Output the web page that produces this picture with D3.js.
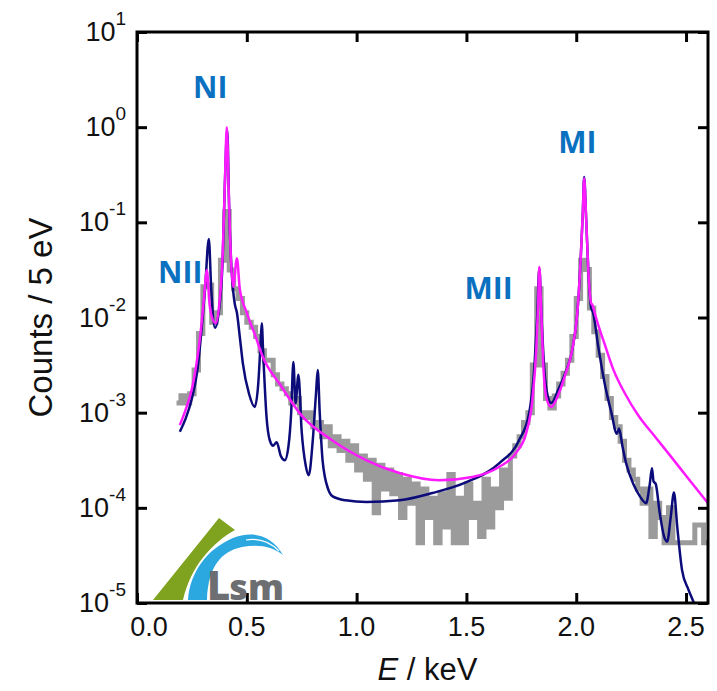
<!DOCTYPE html>
<html>
<head>
<meta charset="utf-8">
<script src="https://cdn.jsdelivr.net/npm/d3@7"></script>
<style>
  html, body { margin: 0; padding: 0; background: #fff; }
  svg { display: block; }
</style>
</head>
<body>
<svg id="chart" width="717" height="691"></svg>
<script>
// ---- axis ticks ----
const xTicks = [0.0, 0.5, 1.0, 1.5, 2.0, 2.5];
const yExponents = [-5, -4, -3, -2, -1, 0, 1];

// ---- measured spectrum (histogram, normalised counts) ----
const binStart = 0.18;   // keV
const binWidth = 0.02;   // keV
const measured = [
  // 0.18 - 0.38
  1.26e-3, 1.51e-3, 1.26e-3, 1.58e-3, 2.8e-3, 6.8e-3, 0.021, 0.022, 8.9e-3, 0.0112,
  // 0.38 - 0.58
  0.040, 0.13, 0.0316, 0.020, 0.0158, 0.0112, 8.9e-3, 7.9e-3, 6.3e-3, 4.47e-3,
  // 0.58 - 0.78
  3.55e-3, 3.55e-3, 2.5e-3, 2.0e-3, 1.78e-3, 1.58e-3, 1.26e-3, 1.41e-3, 1.0e-3, 8.9e-4,
  // 0.78 - 0.98
  1.0e-3, 7.1e-4, 7.9e-4, 5.6e-4, 7.1e-4, 4.5e-4, 5.6e-4, 4.0e-4, 5.0e-4, 3.16e-4,
  // 0.98 - 1.18
  4.5e-4, 2.5e-4, 3.5e-4, 2.0e-4, 3.16e-4, 8.9e-5, 2.8e-4, 1.58e-4, 2.5e-4, 1.41e-4,
  // 1.18 - 1.38
  2.24e-4, 7.9e-5, 2.0e-4, 1.12e-4, 1.78e-4, 4.3e-5, 1.58e-4, 7.9e-5, 1.26e-4, 4.3e-5,
  // 1.38 - 1.58
  1.41e-4, 6.3e-5, 2.24e-4, 4.3e-5, 1.26e-4, 4.3e-5, 1.78e-4, 7.9e-5, 1.12e-4, 5.0e-5,
  // 1.58 - 1.78
  2.0e-4, 6.3e-5, 1.58e-4, 1.0e-4, 2.5e-4, 1.26e-4, 3.5e-4, 4.5e-4, 5.6e-4, 7.9e-4,
  // 1.78 - 1.98
  1.0e-3, 3.16e-3, 0.020, 3.16e-3, 1.41e-3, 1.12e-3, 1.5e-3, 2.0e-3, 2.6e-3, 3.55e-3,
  // 1.98 - 2.18
  6.3e-3, 0.0158, 0.040, 0.032, 0.0126, 7.1e-3, 4.0e-3, 2.4e-3, 1.41e-3, 8.9e-4,
  // 2.18 - 2.38
  7.1e-4, 5.0e-4, 3.16e-4, 2.5e-4, 2.0e-4, 1.58e-4, 1.12e-4, 1.58e-4, 5.0e-5, 1.12e-4,
  // 2.38 - 2.60
  7.9e-5, 4.3e-5, 1.0e-4, 4.3e-5, 4.3e-5, 4.3e-5, 4.3e-5, 4.3e-5, 6.6e-5, 6.6e-5,
  4.3e-5
];

// ---- calculated spectrum (navy) ----
const calcE = [
  0.195, 0.22, 0.25, 0.275, 0.295, 0.31, 0.327, 0.338, 0.355, 0.372,
  0.39, 0.40, 0.411, 0.42, 0.432, 0.445, 0.455, 0.468, 0.482, 0.51,
  0.536, 0.552, 0.562, 0.568, 0.575, 0.59, 0.605, 0.62, 0.636, 0.655,
  0.673, 0.69, 0.702, 0.712, 0.722, 0.735, 0.75, 0.768, 0.782, 0.80,
  0.815, 0.823, 0.832, 0.845, 0.87, 0.891, 0.95, 1.045, 1.195, 1.345,
  1.5, 1.65, 1.741, 1.786, 1.81, 1.822, 1.832, 1.842, 1.855, 1.87,
  1.886, 1.92, 1.95, 1.982, 2.005, 2.02, 2.03, 2.036, 2.045, 2.055,
  2.068, 2.077, 2.10, 2.13, 2.16, 2.185, 2.195, 2.21, 2.227, 2.26,
  2.29, 2.318, 2.335, 2.345, 2.352, 2.362, 2.38, 2.40, 2.414, 2.43,
  2.445, 2.46, 2.482, 2.51, 2.536, 2.56
];
const calcCounts = [
  6.3e-4, 8.5e-4, 1.41e-3, 2.8e-3, 7.9e-3, 0.020, 0.067, 0.020, 7.8e-3, 0.0112,
  0.040, 0.25, 0.93, 0.126, 0.028, 0.014, 0.0112, 6.3e-3, 3.3e-3, 1.58e-3,
  1.15e-3, 2.0e-3, 5.0e-3, 8.7e-3, 4.0e-3, 8.9e-4, 5.1e-4, 4.5e-4, 4.9e-4, 3.5e-4,
  3.16e-4, 4.5e-4, 1.0e-3, 3.4e-3, 1.26e-3, 2.5e-3, 6.3e-4, 2.8e-4, 2.2e-4, 5.0e-4,
  1.58e-3, 2.8e-3, 1.0e-3, 3.16e-4, 1.58e-4, 1.32e-4, 1.2e-4, 1.15e-4, 1.2e-4, 1.43e-4,
  1.86e-4, 2.95e-4, 5.2e-4, 1.0e-3, 3.16e-3, 0.010, 0.033, 0.010, 2.8e-3, 1.5e-3,
  1.26e-3, 1.78e-3, 2.6e-3, 4.6e-3, 0.0112, 0.040, 0.126, 0.30, 0.112, 0.0316,
  0.0126, 0.0112, 5.0e-3, 2.0e-3, 1.0e-3, 6.0e-4, 6.8e-4, 4.5e-4, 2.95e-4, 1.78e-4,
  1.32e-4, 1.12e-4, 1.78e-4, 2.6e-4, 1.9e-4, 1.78e-4, 8.9e-5, 5.0e-5, 4.4e-5, 7.9e-5,
  1.45e-4, 6.3e-5, 2.2e-5, 1.4e-5, 1.0e-5, 7.1e-6
];

// ---- fitted spectrum (magenta) ----
const fitE = [
  0.195, 0.22, 0.25, 0.27, 0.29, 0.305, 0.318, 0.33, 0.345, 0.359,
  0.375, 0.39, 0.40, 0.409, 0.418, 0.428, 0.438, 0.455, 0.468, 0.50,
  0.54, 0.573, 0.65, 0.75, 0.89, 1.045, 1.195, 1.377, 1.527, 1.65,
  1.727, 1.773, 1.80, 1.818, 1.826, 1.832, 1.84, 1.85, 1.865, 1.886,
  1.92, 1.95, 1.982, 2.005, 2.02, 2.03, 2.036, 2.045, 2.055, 2.068,
  2.074, 2.078, 2.09, 2.11, 2.13, 2.17, 2.22, 2.286, 2.36, 2.436,
  2.52, 2.6
];
const fitCounts = [
  7.4e-4, 1.05e-3, 1.78e-3, 3.16e-3, 7.1e-3, 0.0158, 0.0316, 0.0141, 9.5e-3, 8.7e-3,
  0.0141, 0.045, 0.25, 1.0, 0.20, 0.040, 0.021, 0.042, 0.020, 0.0112,
  6.3e-3, 3.85e-3, 2.0e-3, 9.3e-4, 5.1e-4, 3.16e-4, 2.32e-4, 1.95e-4, 2.11e-4, 2.7e-4,
  3.8e-4, 6.2e-4, 1.35e-3, 4.6e-3, 0.0126, 0.034, 0.0126, 3.16e-3, 1.41e-3, 1.15e-3,
  1.58e-3, 2.5e-3, 4.6e-3, 0.0112, 0.040, 0.126, 0.29, 0.112, 0.0316, 0.0141,
  0.0135, 0.0126, 0.010, 7.1e-3, 5.2e-3, 2.8e-3, 1.62e-3, 9.1e-4, 5.55e-4, 3.35e-4,
  1.9e-4, 1.12e-4
];

// ---- peak labels (anchored at energy / counts) ----
const peakNames  = ["NI", "NII", "MII", "MI"];
const peakLabelE = [0.255, 0.096, 1.491, 1.918];
const peakLabelC = [2.02, 0.023, 0.0156, 0.535];

// ---- layout ----
const W = 717, H = 691;
const margin = { left: 137, right: 9, top: 32, bottom: 88 };
const svg = d3.select("#chart");

const x = d3.scaleLinear().domain([0, 2.6]).range([margin.left, W - margin.right]);
const y = d3.scaleLog().domain([1e-5, 10]).range([H - margin.bottom, margin.top]);

const axisFont = "'Liberation Sans', Arial, sans-serif";

svg.append("defs").append("clipPath").attr("id", "plot-clip")
  .append("rect")
  .attr("x", x.range()[0]).attr("y", y.range()[1])
  .attr("width", x.range()[1] - x.range()[0])
  .attr("height", y.range()[0] - y.range()[1]);

const plot = svg.append("g").attr("clip-path", "url(#plot-clip)");

// measured histogram as a step line
const histPts = measured.map((c, i) => [binStart + i * binWidth, c]);
histPts.push([binStart + measured.length * binWidth, measured[measured.length - 1]]);
plot.append("path")
  .datum(histPts)
  .attr("fill", "none")
  .attr("stroke", "#9b9b9b")
  .attr("stroke-width", 5)
  .attr("d", d3.line().x(d => x(d[0])).y(d => y(d[1])).curve(d3.curveStepAfter));

const smooth = d3.line().x(d => x(d[0])).y(d => y(d[1])).curve(d3.curveMonotoneX);

plot.append("path")
  .datum(calcE.map((e, i) => [e, calcCounts[i]]))
  .attr("fill", "none")
  .attr("stroke", "#0b0b7a")
  .attr("stroke-width", 2.5)
  .attr("stroke-linejoin", "round")
  .attr("d", smooth);

plot.append("path")
  .datum(fitE.map((e, i) => [e, fitCounts[i]]))
  .attr("fill", "none")
  .attr("stroke", "#ff1aff")
  .attr("stroke-width", 2.5)
  .attr("stroke-linejoin", "round")
  .attr("d", smooth);

// ---- axes: inward ticks on all four sides ----
const tickLen = 10;
const yTickVals = yExponents.map(e => Math.pow(10, e));

function styleAxis(g) {
  g.select(".domain").remove();
  g.selectAll(".tick line").attr("stroke", "#000").attr("stroke-width", 3);
  g.selectAll(".tick text").remove();
}

svg.append("g")
  .attr("transform", `translate(0,${y.range()[0]})`)
  .call(d3.axisBottom(x).tickValues(xTicks).tickSizeInner(-tickLen).tickSizeOuter(0))
  .call(styleAxis);
svg.append("g")
  .attr("transform", `translate(0,${y.range()[1]})`)
  .call(d3.axisTop(x).tickValues(xTicks).tickSizeInner(-tickLen).tickSizeOuter(0))
  .call(styleAxis);
svg.append("g")
  .attr("transform", `translate(${x.range()[0]},0)`)
  .call(d3.axisLeft(y).tickValues(yTickVals).tickSizeInner(-tickLen).tickSizeOuter(0))
  .call(styleAxis);
svg.append("g")
  .attr("transform", `translate(${x.range()[1]},0)`)
  .call(d3.axisRight(y).tickValues(yTickVals).tickSizeInner(-tickLen).tickSizeOuter(0))
  .call(styleAxis);

// frame
svg.append("rect")
  .attr("x", x.range()[0]).attr("y", y.range()[1])
  .attr("width", x.range()[1] - x.range()[0])
  .attr("height", y.range()[0] - y.range()[1])
  .attr("fill", "none").attr("stroke", "#000").attr("stroke-width", 3);

// x tick labels
const fmt = d3.format(".1f");
svg.append("g").selectAll("text")
  .data(xTicks)
  .join("text")
  .attr("x", d => x(d) + (d === 0 ? 12 : 0))
  .attr("y", 636)
  .attr("text-anchor", "middle")
  .attr("font-family", axisFont)
  .attr("font-size", 27)
  .attr("fill", "#111")
  .text(d => fmt(d));

// y tick labels: 10 with superscript exponent
const yLab = svg.append("g").selectAll("text")
  .data(yExponents)
  .join("text")
  .attr("x", 126)
  .attr("y", d => y(Math.pow(10, d)) + 9)
  .attr("text-anchor", "end")
  .attr("font-family", axisFont)
  .attr("font-size", 27)
  .attr("fill", "#111");
yLab.append("tspan").text("10");
yLab.append("tspan").attr("dy", -16).attr("font-size", 19).text(d => String(d));

// axis titles
svg.append("text")
  .attr("transform", `translate(52,${(y.range()[0] + y.range()[1]) / 2}) rotate(-90)`)
  .attr("text-anchor", "middle")
  .attr("font-family", axisFont)
  .attr("font-size", 33)
  .attr("fill", "#111")
  .text("Counts / 5 eV");

const xTitle = svg.append("text")
  .attr("x", (x.range()[0] + x.range()[1]) / 2 + 5)
  .attr("y", 680)
  .attr("text-anchor", "middle")
  .attr("font-family", axisFont)
  .attr("font-size", 31)
  .attr("fill", "#111");
xTitle.append("tspan").attr("font-style", "italic").text("E");
xTitle.append("tspan").text(" / keV");

// peak labels
svg.append("g").selectAll("text")
  .data(peakNames)
  .join("text")
  .attr("x", (d, i) => x(peakLabelE[i]))
  .attr("y", (d, i) => y(peakLabelC[i]))
  .attr("font-family", "'Open Sans', sans-serif")
  .attr("font-weight", 700)
  .attr("font-size", 30)
  .attr("fill", "#0a70c0")
  .text(d => d);

// ---- LSM logo (lower left corner) ----
const logo = svg.append("g");
logo.append("path")
  .attr("d", "M153,600 L219,518 L235,530 C212,543 191,566 183,600 Z")
  .attr("fill", "#7fa31f");
logo.append("path")
  .attr("d", "M188,600 C190,572 207,549 233,538 C251,531 271,534 283,555 C272,546 258,544 242,547 C222,551 208,566 207,600 Z")
  .attr("fill", "#2aa8df");
logo.append("path")
  .attr("d", "M246,540 C258,538 270,542 279,551")
  .attr("fill", "none").attr("stroke", "#fff").attr("stroke-width", 1.2);
const lsm = logo.append("text")
  .attr("x", 207).attr("y", 600)
  .attr("font-family", "'Open Sans', sans-serif")
  .attr("font-weight", 800)
  .attr("fill", "#6d6e71");
lsm.append("tspan").attr("font-size", 40).text("L");
lsm.append("tspan").attr("font-size", 36).attr("dx", -1).text("sm");
</script>
</body>
</html>
